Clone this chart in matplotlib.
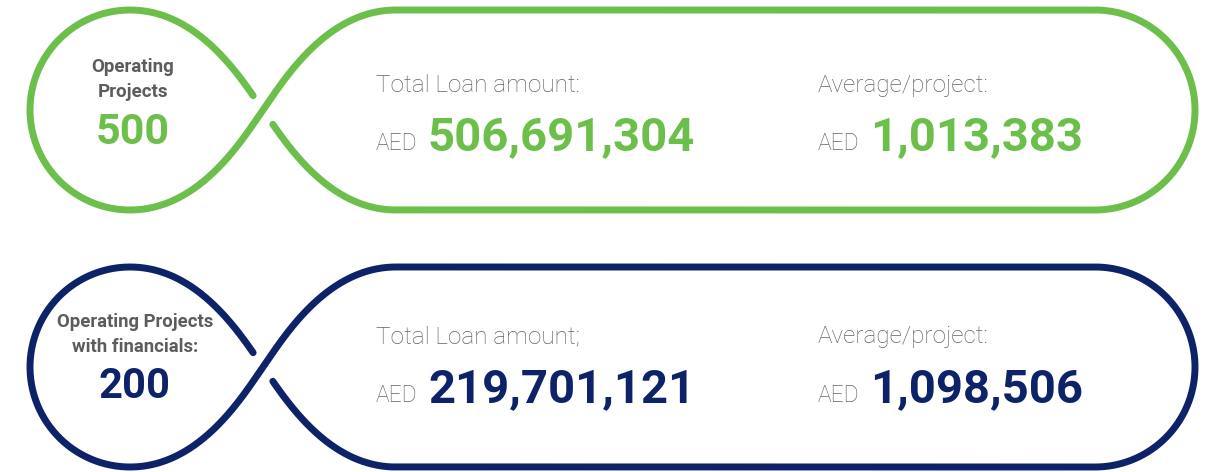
import numpy as np
import matplotlib
matplotlib.use("Agg")
import matplotlib.pyplot as plt

# ---- data ----
row_labels = ["Operating\nProjects", "Operating Projects\nwith financials:"]
project_counts = ["500", "200"]
total_label = ["Total Loan amount:", "Total Loan amount;"]
avg_label = ["Average/project:", "Average/project:"]
total_loan = [506691304, 219701121]
avg_per_project = [1013383, 1098506]
currency = "AED"
row_colors = ["#6cbf4a", "#0e2268"]

GRAY_LIGHT = "#636363"
GRAY_BOLD = "#5c5c5c"
W, H = 1206, 472

fig = plt.figure(figsize=(W / 100, H / 100), dpi=100)
ax = fig.add_axes([0, 0, 1, 1])
ax.set_xlim(0, W)
ax.set_ylim(H, 0)
ax.axis("off")


def bez(p0, p1, p2, p3, n=200):
    t = np.linspace(0, 1, n)[:, None]
    p0, p1, p2, p3 = map(np.asarray, (p0, p1, p2, p3))
    return ((1 - t) ** 3 * p0 + 3 * (1 - t) ** 2 * t * p1
            + 3 * (1 - t) * t ** 2 * p2 + t ** 3 * p3)


def infinity(cy, r=100.0, cxl=130.0, xc=263.0, cxr=1095.0, gap=17.0,
             k1=70.0, k2=35.0, ang=55.0):
    a = np.radians(ang)
    dx, dy = np.cos(a) * k2, np.sin(a) * k2
    P = np.array([xc, cy])
    c2 = 2 * xc - cxl
    top, bot = cy - r, cy + r
    # upper-left: from crossing back to lobe top (reverse of top->P)
    ul = bez((cxl, top), (cxl + k1, top), (xc - dx, cy - dy), (xc, cy))[::-1]
    ul = ul[np.hypot(*(ul - P).T) >= gap]
    t = np.linspace(np.pi / 2, 3 * np.pi / 2, 300)
    lobe = np.c_[cxl + r * np.cos(t), cy - r * np.sin(t)]
    ll = bez((cxl, bot), (cxl + k1, bot), (xc - dx, cy + dy), (xc, cy))
    ur = bez((xc, cy), (xc + dx, cy - dy), (c2 - k1, top), (c2, top))
    t = np.linspace(np.pi / 2, -np.pi / 2, 200)
    cap = np.c_[cxr + r * np.cos(t), cy - r * np.sin(t)]
    lr = bez((c2, bot), (c2 - k1, bot), (xc + dx, cy + dy), (xc, cy))
    lr = lr[np.hypot(*(lr - P).T) >= gap]
    pts = np.vstack([ul, lobe, ll, ur, cap, lr])
    return pts[:, 0], pts[:, 1]


centers = [110, 367]
for i, cy in enumerate(centers):
    col = row_colors[i]
    x, y = infinity(cy)
    ax.plot(x, y, color=col, lw=5.0, solid_capstyle="round",
            solid_joinstyle="round")

    lines = row_labels[i].split("\n")
    if i == 0:
        ax.text(133, 72, lines[0], ha="center", va="baseline", fontsize=13.5,
                fontweight="bold", color=GRAY_BOLD, family="Roboto")
        ax.text(133, 97, lines[1], ha="center", va="baseline", fontsize=13.5,
                fontweight="bold", color=GRAY_BOLD, family="Roboto")
        ax.text(133, 144, project_counts[i], ha="center", va="baseline",
                fontsize=31, fontweight="bold", color=col, family="Roboto")
    else:
        ax.text(135, 327, lines[0], ha="center", va="baseline", fontsize=13.3,
                fontweight="bold", color=GRAY_BOLD, family="Roboto")
        ax.text(135, 352, lines[1], ha="center", va="baseline", fontsize=13.3,
                fontweight="bold", color=GRAY_BOLD, family="Roboto")
        ax.text(135, 398, project_counts[i], ha="center", va="baseline",
                fontsize=30, fontweight="bold", color=col, family="Roboto")

    base_lbl = cy - 18 if i == 0 else cy - 24
    base_num = cy + 40 if i == 0 else cy + 35
    for xl, lbl, val in [(376, total_label[i], total_loan[i]),
                         (818, avg_label[i], avg_per_project[i])]:
        ax.text(xl, base_lbl, lbl, ha="left", va="baseline", fontsize=17.5,
                fontweight="light", color=GRAY_LIGHT, family="Roboto")
        ax.text(xl, base_num, currency, ha="left", va="baseline", fontsize=16.5,
                fontweight="light", color=GRAY_LIGHT, family="Roboto")
        ax.text(xl + 52, base_num, f"{val:,}", ha="left", va="baseline",
                fontsize=34, fontweight="bold", color=col, family="Roboto")

fig.savefig("out.png", dpi=100, facecolor="white")
